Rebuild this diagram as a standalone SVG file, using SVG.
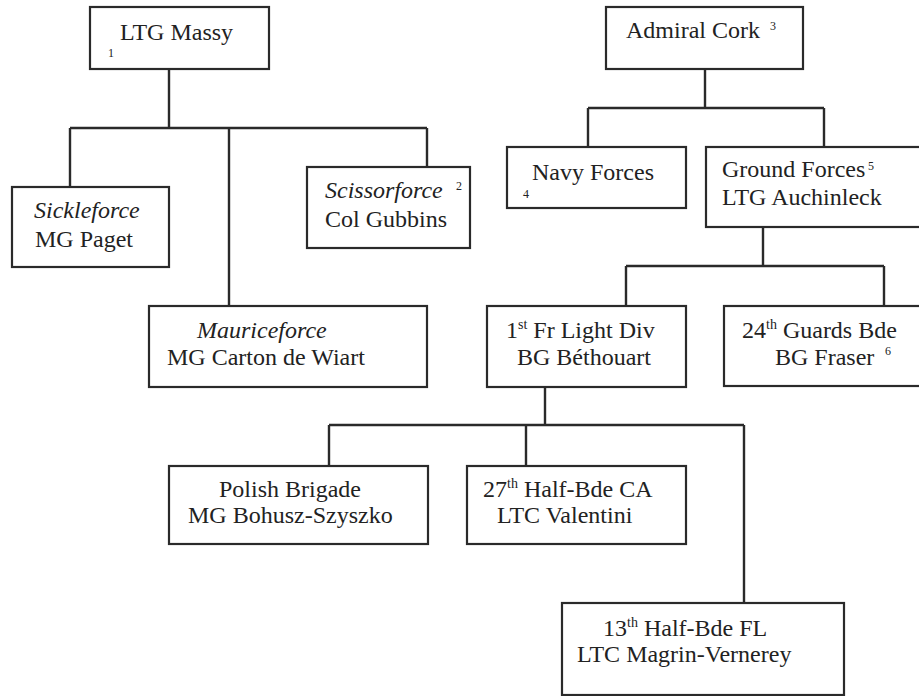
<svg xmlns="http://www.w3.org/2000/svg" width="919" height="696" viewBox="0 0 919 696">
<style>
.box{fill:#fff;stroke:#2a2a2a;stroke-width:2.2}
.ln{fill:none;stroke:#2a2a2a;stroke-width:2.4}
text{font-family:"Liberation Serif","Times New Roman",serif;font-size:24px;fill:#222}
.it{font-style:italic}
.sm{font-size:12px}
.sup{font-size:14px}
</style>
<rect width="919" height="696" fill="#fff"/>
<g id="connectors">
<path class="ln" d="M169 69V128M70 128H427M70 128V187M229 128V306M427 128V167"/>
<path class="ln" d="M705 69V108M588 108H824M588 108V147M824 108V147"/>
<path class="ln" d="M763 227V266M626 266H884M626 266V306M884 266V306"/>
<path class="ln" d="M545 387V425M329 425H744M329 425V466M526 425V466M744 425V603"/>
</g>
<g id="massy">
<rect class="box" x="90" y="7" width="179" height="62"/>
<text x="120" y="40">LTG Massy</text>
<text class="sm" x="108" y="57">1</text>
</g>
<g id="cork">
<rect class="box" x="606" y="7" width="197" height="62"/>
<text x="626" y="38">Admiral Cork</text>
<text class="sm" x="770" y="30">3</text>
</g>
<g id="navy">
<rect class="box" x="507" y="147" width="179" height="61"/>
<text x="532" y="180">Navy Forces</text>
<text class="sm" x="523" y="198">4</text>
</g>
<g id="ground">
<rect class="box" x="706" y="147" width="225" height="80"/>
<text x="722" y="177">Ground Forces</text>
<text class="sm" x="868" y="170">5</text>
<text x="722" y="205">LTG Auchinleck</text>
</g>
<g id="sickle">
<rect class="box" x="12" y="187" width="157" height="80"/>
<text class="it" x="34" y="218">Sickleforce</text>
<text x="35" y="247">MG Paget</text>
</g>
<g id="scissor">
<rect class="box" x="307" y="167" width="163" height="81"/>
<text class="it" x="325" y="198">Scissorforce</text>
<text class="sm" x="456" y="190">2</text>
<text x="325" y="227">Col Gubbins</text>
</g>
<g id="maurice">
<rect class="box" x="149" y="306" width="278" height="81"/>
<text class="it" x="197" y="338">Mauriceforce</text>
<text x="167" y="365">MG Carton de Wiart</text>
</g>
<g id="frdiv">
<rect class="box" x="487" y="306" width="199" height="81"/>
<text x="506" y="338">1<tspan class="sup" dy="-9">st</tspan><tspan dy="9"> Fr Light Div</tspan></text>
<text x="517" y="365">BG Béthouart</text>
</g>
<g id="guards">
<rect class="box" x="724" y="306" width="207" height="80"/>
<text x="742" y="338">24<tspan class="sup" dy="-9">th</tspan><tspan dy="9"> Guards Bde</tspan></text>
<text x="775" y="365">BG Fraser</text>
<text class="sm" x="885" y="355">6</text>
</g>
<g id="polish">
<rect class="box" x="169" y="466" width="259" height="78"/>
<text x="219" y="497">Polish Brigade</text>
<text x="188" y="523">MG Bohusz-Szyszko</text>
</g>
<g id="half27">
<rect class="box" x="467" y="466" width="219" height="78"/>
<text x="483" y="497">27<tspan class="sup" dy="-9">th</tspan><tspan dy="9"> Half-Bde CA</tspan></text>
<text x="497" y="523">LTC Valentini</text>
</g>
<g id="half13">
<rect class="box" x="562" y="603" width="282" height="92"/>
<text x="603" y="636">13<tspan class="sup" dy="-9">th</tspan><tspan dy="9"> Half-Bde FL</tspan></text>
<text x="577" y="662">LTC Magrin-Vernerey</text>
</g>
</svg>
